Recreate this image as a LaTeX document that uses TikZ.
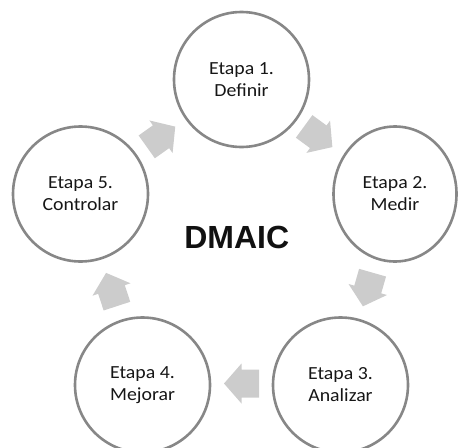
\documentclass[tikz,border=0pt]{standalone}
\usepackage{fontspec}
\setmainfont{Carlito}
\newfontfamily\etapafont{Carlito}[FakeStretch=1.07]
\newfontfamily\titlefont{Liberation Sans}
\usetikzlibrary{calc,shapes.geometric}
\definecolor{ringgray}{RGB}{135,135,135}
\definecolor{arrowgray}{RGB}{204,204,204}
\definecolor{txtdark}{RGB}{22,22,22}
\tikzset{
  stage/.style={circle, draw=ringgray, line width=2.6pt, minimum size=135pt, inner sep=0pt,
    align=center, text=txtdark, font=\etapafont\fontsize{18.5}{22}\selectfont},
  blockarrow/.style={fill=arrowgray, draw=none}
}
\newcommand{\blockarrowpath}{(-17.5,-14) -- (0,-14) -- (0,-20) -- (17.5,0) -- (0,20) -- (0,14) -- (-17.5,14) -- cycle}
\begin{document}
\begin{tikzpicture}[x=1pt,y=-1pt]
\useasboundingbox (0,0) rectangle (460,447);
\begin{scope}
\clip (0,0) rectangle (460,447);
\node[stage] (c1) at (241.5,79.5) {Etapa 1.\\Definir};
\node[stage, ellipse, minimum width=123pt, minimum height=135pt] (c2) at (395,194) {Etapa 2.\\Medir};
\node[stage] (c3) at (340.5,385) {Etapa 3.\\Analizar};
\node[stage] (c4) at (142.5,385) {Etapa 4.\\Mejorar};
\node[stage] (c5) at (80.5,194) {Etapa 5.\\Controlar};

\begin{scope}[shift={($(c1)!0.5!(c2)$)}, rotate=-36.2]
  \fill[blockarrow] \blockarrowpath;
\end{scope}
\begin{scope}[shift={($(c2)!0.5!(c3)$)}, rotate=-106]
  \fill[blockarrow] \blockarrowpath;
\end{scope}
\begin{scope}[shift={($(c3)!0.5!(c4)+(0,-1.5)$)}, rotate=180]
  \fill[blockarrow] \blockarrowpath;
\end{scope}
\begin{scope}[shift={($(c4)!0.5!(c5)$)}, rotate=108.1]
  \fill[blockarrow] \blockarrowpath;
\end{scope}
\begin{scope}[shift={($(c5)!0.5!(c1)$)}, rotate=35.4]
  \fill[blockarrow] \blockarrowpath;
\end{scope}

\node[anchor=base, inner sep=0pt, text={rgb,255:red,17;green,17;blue,17},
  font=\titlefont\bfseries\fontsize{32}{36}\selectfont] (title) at (236.7,248.3) {DMAIC};
\end{scope}
\end{tikzpicture}
\end{document}
